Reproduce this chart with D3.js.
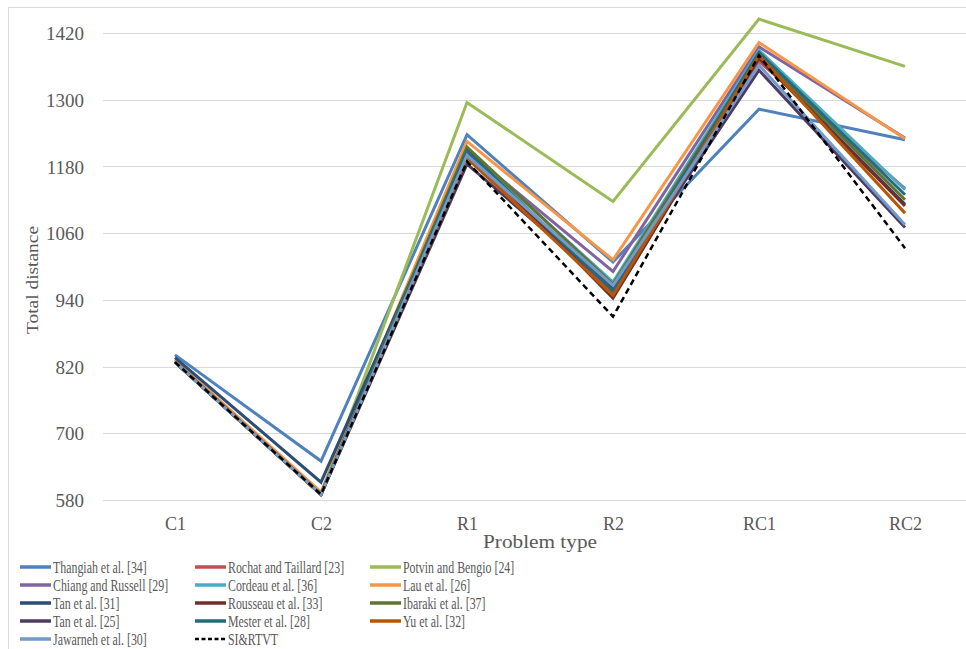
<!DOCTYPE html>
<html><head><meta charset="utf-8">
<script src="https://cdn.jsdelivr.net/npm/d3@7"></script>
<style>
html,body{margin:0;padding:0;background:#fff;}
svg{display:block;}
</style></head>
<body>
<svg id="c" width="966" height="649"></svg>
<script>
const categories = ["C1","C2","R1","R2","RC1","RC2"];
const yTicks = [580,700,820,940,1060,1180,1300,1420];
const seriesNames = [
  "Thangiah et al. [34]","Rochat and Taillard [23]","Potvin and Bengio  [24]",
  "Chiang and Russell [29]","Cordeau et al. [36]","Lau et al. [26]",
  "Tan et al. [31]","Rousseau et al. [33]","Ibaraki et al. [37]",
  "Tan et al. [25]","Mester et al. [28]","Yu et al. [32]",
  "Jawarneh et al. [30]","SI&RTVT"
];
const thangiah = [841, 650, 1237, 1008, 1283, 1228];
const rochat   = [828, 590, 1197, 954, 1369, 1140];
const potvin   = [830, 591, 1295, 1117, 1445, 1360];
const chiang   = [829, 591, 1208, 991, 1395, 1231];
const cordeau  = [828, 590, 1210, 972, 1389, 1138];
const lau      = [832, 594, 1225, 1012, 1403, 1230];
const tan31    = [836, 612, 1203, 960, 1376, 1112];
const rousseau = [828, 590, 1210, 943, 1375, 1109];
const ibaraki  = [828, 590, 1215, 968, 1383, 1120];
const tan25    = [828, 590, 1184, 960, 1353, 1070];
const mester   = [828, 590, 1208, 956, 1385, 1129];
const yu       = [828, 590, 1195, 948, 1380, 1096];
const jawarneh = [828, 590, 1200, 966, 1362, 1075];
const sirtvt   = [828, 590, 1189, 910, 1380, 1033];
const seriesValues = [thangiah, rochat, potvin, chiang, cordeau, lau, tan31,
  rousseau, ibaraki, tan25, mester, yu, jawarneh, sirtvt];
const colors = ["#4F81BD","#C0504D","#9BBB59","#8064A2","#4BACC6","#F79646",
  "#2C4D75","#772C2A","#5F7530","#4D3B62","#276A7C","#B65708","#729ACA","#000000"];

const svg = d3.select("#c");
const FONT = "'Liberation Serif', 'DejaVu Serif', serif";
const TXT = "#595959";

// frame
svg.append("rect").attr("x",8.5).attr("y",7.5).attr("width",1000).attr("height",700)
  .attr("fill","none").attr("stroke","#d9d9d9").attr("stroke-width",1);

const x = d3.scalePoint().domain(categories).range([175, 905]);
const y = d3.scaleLinear().domain([580, 1420]).range([500, 33]);

// gridlines
svg.append("g").selectAll("line").data(yTicks).join("line")
  .attr("x1",103).attr("x2",966)
  .attr("y1",d=>Math.round(y(d))+0.5).attr("y2",d=>Math.round(y(d))+0.5)
  .attr("stroke","#d9d9d9").attr("stroke-width",1.2);

// y axis labels
const yAxis = d3.axisLeft(y).tickValues(yTicks).tickFormat(d3.format("d")).tickSize(0).tickPadding(0);
const ga = svg.append("g").attr("transform","translate(84,0)").call(yAxis);
ga.select(".domain").remove();
ga.selectAll("text").attr("font-family",FONT).attr("font-size",19).attr("fill",TXT)
  .attr("dy","0.35em");

// x axis labels
const xAxis = d3.axisBottom(x).tickSize(0).tickPadding(0);
const gx = svg.append("g").attr("transform","translate(0,517)").call(xAxis);
gx.select(".domain").remove();
gx.selectAll("text").attr("font-family",FONT).attr("font-size",18).attr("fill",TXT);

// axis titles
svg.append("text").attr("transform","translate(38,280) rotate(-90)")
  .attr("text-anchor","middle").attr("font-family",FONT).attr("font-size",17)
  .attr("textLength",108).attr("lengthAdjust","spacingAndGlyphs")
  .attr("fill",TXT).text("Total distance");
svg.append("text").attr("transform","translate(540,548)")
  .attr("text-anchor","middle").attr("font-family",FONT).attr("font-size",19)
  .attr("textLength",114).attr("lengthAdjust","spacingAndGlyphs")
  .attr("fill",TXT).text("Problem type");

// lines
const line = d3.line().x((d,i)=>x(categories[i])).y(d=>y(d));
seriesValues.forEach((vals,i)=>{
  const last = i === seriesValues.length-1;
  svg.append("path").datum(vals).attr("d",line)
    .attr("fill","none").attr("stroke",colors[i])
    .attr("stroke-width", last ? 2.5 : 3)
    .attr("stroke-dasharray", last ? "6,4" : null)
    .attr("stroke-linejoin","miter");
});

// legend
const colX = [20, 195, 370];
const rowY = [567, 585, 603, 621, 639];
seriesNames.forEach((name,i)=>{
  const c = i % 3, r = Math.floor(i/3);
  const lx = colX[c], ly = rowY[r];
  const last = i === seriesNames.length-1;
  svg.append("line").attr("x1",lx).attr("x2",lx+31).attr("y1",ly).attr("y2",ly)
    .attr("stroke",colors[i]).attr("stroke-width", last ? 2.5 : 3.5)
    .attr("stroke-dasharray", last ? "4,2.5" : null);
  svg.append("text").attr("transform",`translate(${lx+33},${ly+5.5}) scale(0.7,1)`)
    .attr("font-family",FONT).attr("font-size",17).attr("fill",TXT).text(name);
});
</script>
</body></html>
